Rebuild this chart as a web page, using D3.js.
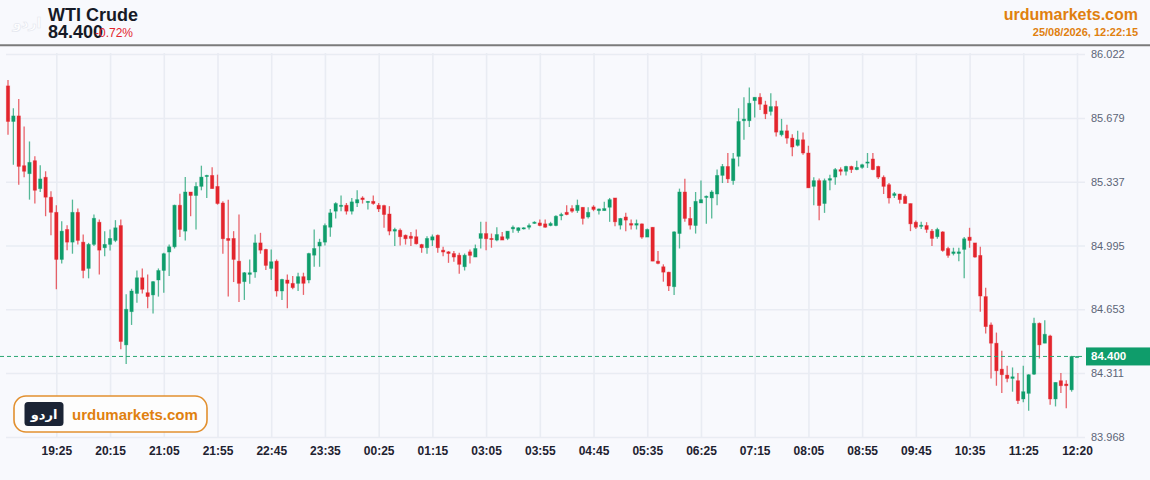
<!DOCTYPE html>
<html>
<head>
<meta charset="utf-8">
<script src="https://cdn.jsdelivr.net/npm/d3@7"></script>
<style>
  body { margin: 0; background: #f8f9fd; }
  svg { display: block; font-family: "Liberation Sans", Arial, sans-serif; }
</style>
</head>
<body>
<div id="chart"></div>
<script>
// Chart data (5 minute candles, WTI Crude)
// ================================
var open = [
  85.851, 85.660, 85.690, 85.423, 85.380, 85.450, 85.300, 85.361, 85.254, 85.173,
  84.920, 85.081, 85.013, 85.173, 85.013, 84.872, 85.001, 85.120, 84.983, 85.001,
  85.022, 85.102, 84.462, 84.640, 84.738, 84.822, 84.742, 84.730, 84.810, 84.861,
  84.960, 84.988, 85.211, 85.072, 85.282, 85.263, 85.312, 85.366, 85.371, 85.312,
  85.223, 85.033, 85.033, 84.911, 84.801, 84.840, 84.853, 85.009, 84.974, 84.872,
  84.911, 84.751, 84.810, 84.792, 84.792, 84.828, 84.810, 84.943, 84.992, 85.013,
  85.093, 85.179, 85.206, 85.211, 85.179, 85.223, 85.250, 85.227, 85.232, 85.211,
  85.209, 85.164, 85.072, 85.077, 85.050, 85.045, 85.042, 85.000, 84.983, 85.024,
  85.050, 84.970, 84.961, 84.952, 84.943, 84.881, 84.961, 84.933, 85.033, 85.059,
  85.033, 85.024, 85.042, 85.033, 85.084, 85.075, 85.086, 85.093, 85.116, 85.116,
  85.111, 85.102, 85.102, 85.157, 85.173, 85.193, 85.182, 85.200, 85.148, 85.202,
  85.182, 85.182, 85.200, 85.250, 85.104, 85.148, 85.113, 85.104, 85.111, 85.040,
  85.093, 84.911, 84.881, 84.852, 84.774, 85.059, 85.282, 85.140, 85.102, 85.223,
  85.254, 85.250, 85.271, 85.371, 85.419, 85.343, 85.473, 85.664, 85.664, 85.772,
  85.790, 85.749, 85.714, 85.740, 85.589, 85.610, 85.571, 85.532, 85.562, 85.491,
  85.312, 85.343, 85.220, 85.345, 85.362, 85.402, 85.393, 85.419, 85.402, 85.414,
  85.437, 85.459, 85.419, 85.361, 85.321, 85.263, 85.271, 85.259, 85.220, 85.120,
  85.099, 85.102, 85.072, 85.042, 85.068, 84.979, 84.952, 84.952, 84.974, 85.040,
  85.009, 84.942, 84.721, 84.569, 84.471, 84.332, 84.300, 84.282, 84.270, 84.172,
  84.202, 84.305, 84.578, 84.471, 84.510, 84.172, 84.270, 84.252, 84.221, 84.400
];
var high = [
  85.883, 85.731, 85.781, 85.633, 85.553, 85.473, 85.425, 85.393, 85.286, 85.211,
  85.125, 85.104, 85.241, 85.193, 85.054, 85.009, 85.161, 85.134, 85.072, 85.081,
  85.131, 85.134, 84.733, 84.763, 84.861, 84.872, 84.840, 84.804, 84.872, 84.956,
  85.001, 85.214, 85.273, 85.362, 85.282, 85.334, 85.423, 85.375, 85.414, 85.375,
  85.232, 85.241, 85.072, 85.161, 84.853, 84.920, 85.054, 85.063, 84.977, 84.974,
  84.920, 84.817, 84.840, 84.831, 84.849, 84.849, 84.956, 85.081, 85.031, 85.113,
  85.191, 85.227, 85.263, 85.223, 85.250, 85.291, 85.259, 85.232, 85.263, 85.223,
  85.214, 85.206, 85.090, 85.086, 85.054, 85.068, 85.081, 85.004, 85.045, 85.054,
  85.054, 84.988, 84.965, 84.965, 84.956, 84.952, 84.974, 85.000, 85.122, 85.122,
  85.059, 85.093, 85.068, 85.072, 85.102, 85.093, 85.093, 85.113, 85.125, 85.134,
  85.134, 85.122, 85.157, 85.170, 85.211, 85.211, 85.241, 85.200, 85.200, 85.211,
  85.193, 85.229, 85.250, 85.250, 85.143, 85.170, 85.134, 85.134, 85.113, 85.086,
  85.093, 84.965, 84.894, 84.854, 85.072, 85.300, 85.353, 85.202, 85.282, 85.343,
  85.263, 85.291, 85.402, 85.432, 85.491, 85.491, 85.731, 85.790, 85.842, 85.790,
  85.812, 85.771, 85.812, 85.771, 85.674, 85.642, 85.592, 85.610, 85.601, 85.530,
  85.361, 85.354, 85.354, 85.375, 85.411, 85.414, 85.423, 85.423, 85.450, 85.434,
  85.491, 85.491, 85.423, 85.371, 85.330, 85.282, 85.273, 85.268, 85.220, 85.129,
  85.122, 85.120, 85.084, 85.090, 85.072, 84.988, 84.983, 84.983, 85.040, 85.090,
  85.009, 84.988, 84.769, 84.582, 84.528, 84.430, 84.350, 84.341, 84.311, 84.350,
  84.305, 84.608, 84.582, 84.594, 84.516, 84.261, 84.311, 84.273, 84.403, 84.403
];
var low = [
  85.589, 85.428, 85.321, 85.361, 85.241, 85.220, 85.282, 85.152, 85.050, 84.760,
  84.899, 84.970, 84.951, 85.001, 84.819, 84.819, 84.992, 84.840, 84.938, 84.968,
  85.013, 84.439, 84.359, 84.569, 84.688, 84.738, 84.658, 84.630, 84.721, 84.742,
  84.831, 84.979, 85.040, 85.022, 85.152, 85.081, 85.291, 85.250, 85.300, 85.214,
  84.951, 84.721, 84.799, 84.692, 84.703, 84.790, 84.822, 84.951, 84.863, 84.810,
  84.721, 84.703, 84.658, 84.760, 84.751, 84.730, 84.792, 84.881, 84.881, 84.995,
  85.042, 85.140, 85.179, 85.161, 85.161, 85.202, 85.220, 85.188, 85.214, 85.175,
  85.090, 85.050, 84.992, 84.995, 85.000, 84.992, 85.000, 84.956, 84.951, 84.992,
  84.956, 84.938, 84.902, 84.908, 84.844, 84.861, 84.899, 84.933, 84.979, 84.970,
  84.983, 85.018, 85.024, 85.024, 85.063, 85.063, 85.081, 85.081, 85.111, 85.098,
  85.090, 85.098, 85.098, 85.131, 85.157, 85.170, 85.170, 85.107, 85.140, 85.179,
  85.161, 85.182, 85.122, 85.098, 85.081, 85.072, 85.081, 85.081, 85.031, 85.040,
  84.911, 84.894, 84.801, 84.751, 84.730, 84.979, 85.122, 85.081, 85.059, 85.223,
  85.111, 85.140, 85.211, 85.330, 85.330, 85.321, 85.419, 85.562, 85.630, 85.681,
  85.722, 85.673, 85.692, 85.580, 85.580, 85.541, 85.473, 85.526, 85.482, 85.304,
  85.211, 85.131, 85.170, 85.291, 85.321, 85.371, 85.371, 85.384, 85.398, 85.407,
  85.411, 85.398, 85.352, 85.271, 85.220, 85.250, 85.220, 85.220, 85.072, 85.084,
  85.084, 85.063, 84.992, 85.031, 84.961, 84.929, 84.942, 84.911, 84.819, 84.983,
  84.929, 84.640, 84.523, 84.282, 84.243, 84.204, 84.261, 84.211, 84.145, 84.154,
  84.109, 84.300, 84.389, 84.471, 84.141, 84.132, 84.204, 84.122, 84.211, 84.397
];
var close = [
  85.660, 85.690, 85.419, 85.393, 85.441, 85.291, 85.352, 85.254, 85.173, 84.920,
  85.072, 85.013, 85.173, 85.022, 84.861, 85.001, 85.141, 84.970, 85.001, 85.033,
  85.090, 84.480, 84.653, 84.751, 84.822, 84.760, 84.721, 84.801, 84.861, 84.951,
  84.988, 85.211, 85.081, 85.282, 85.263, 85.312, 85.362, 85.371, 85.300, 85.220,
  85.031, 85.022, 84.920, 84.792, 84.849, 84.849, 85.009, 84.970, 84.888, 84.908,
  84.751, 84.813, 84.792, 84.769, 84.828, 84.792, 84.952, 84.979, 85.013, 85.102,
  85.170, 85.220, 85.211, 85.179, 85.229, 85.241, 85.241, 85.232, 85.220, 85.191,
  85.161, 85.072, 85.081, 85.042, 85.031, 85.033, 85.004, 84.983, 85.033, 85.042,
  84.983, 84.960, 84.952, 84.933, 84.894, 84.943, 84.942, 84.979, 85.059, 85.031,
  85.027, 85.054, 85.024, 85.072, 85.093, 85.090, 85.090, 85.102, 85.120, 85.102,
  85.093, 85.113, 85.152, 85.161, 85.161, 85.179, 85.211, 85.140, 85.173, 85.188,
  85.191, 85.193, 85.241, 85.122, 85.140, 85.131, 85.104, 85.113, 85.040, 85.081,
  84.911, 84.899, 84.852, 84.778, 85.068, 85.282, 85.140, 85.104, 85.232, 85.241,
  85.259, 85.282, 85.371, 85.419, 85.352, 85.460, 85.660, 85.673, 85.758, 85.790,
  85.753, 85.701, 85.740, 85.603, 85.610, 85.571, 85.523, 85.562, 85.491, 85.304,
  85.343, 85.209, 85.343, 85.354, 85.402, 85.393, 85.419, 85.402, 85.414, 85.428,
  85.443, 85.402, 85.362, 85.312, 85.250, 85.273, 85.241, 85.220, 85.111, 85.093,
  85.104, 85.081, 85.033, 85.081, 84.968, 84.942, 84.961, 84.961, 85.031, 85.022,
  84.933, 84.724, 84.560, 84.471, 84.323, 84.302, 84.282, 84.291, 84.163, 84.211,
  84.302, 84.578, 84.462, 84.519, 84.172, 84.261, 84.243, 84.243, 84.400, 84.400
];

// tick labels
var priceTicks = [86.022, 85.679, 85.337, 84.995, 84.653, 84.311, 83.968];
var tickBars = [9, 19, 29, 39, 49, 59, 69, 79, 89, 99, 109, 119, 129, 139, 149, 159, 169, 179, 189, 199];
var timeLabels = [
  "19:25", "20:15", "21:05", "21:55", "22:45", "23:35", "00:25", "01:15", "03:05", "03:55",
  "04:45", "05:35", "06:25", "07:15", "08:05", "08:55", "09:45", "10:35", "11:25", "12:20"
];
var lastPrice = 84.4;
var changeText = "-0.72%";
var stampText = "25/08/2026, 12:22:15";

// Set up our chart
// ================================
var svgWidth = 1150;
var svgHeight = 480;

var plot = { left: 6, right: 1085, top: 54, bottom: 437 };

var upColor = "#0f9d6b";
var downColor = "#e3252d";
var orange = "#e0800f";

var svg = d3
  .select("#chart")
  .append("svg")
  .attr("width", svgWidth)
  .attr("height", svgHeight);

svg.append("rect").attr("width", svgWidth).attr("height", svgHeight).attr("fill", "#f8f9fd");

var bars = d3.range(close.length).map((i) => ({
  i: i,
  o: open[i],
  h: high[i],
  l: low[i],
  c: close[i],
}));

var x = d3.scaleLinear().domain([0, close.length - 1]).range([8, 1077]);
var y = d3
  .scaleLinear()
  .domain([d3.min(priceTicks), d3.max(priceTicks)])
  .range([plot.bottom, plot.top]);

// grid lines
// ================================
var yGrid = svg
  .append("g")
  .attr("transform", `translate(${plot.left}, 0)`)
  .call(d3.axisRight(y).tickValues(priceTicks).tickSize(plot.right - plot.left).tickFormat(""));

var xGrid = svg
  .append("g")
  .attr("transform", `translate(0, ${plot.top - 1})`)
  .call(d3.axisBottom(x).tickValues(tickBars).tickSize(plot.bottom - plot.top + 1).tickFormat(""));

svg.selectAll(".domain").remove();
yGrid.selectAll("line").attr("stroke", "#e9ecf3").attr("stroke-width", 1.6);
xGrid.selectAll("line").attr("stroke", "#e9ecf3").attr("stroke-width", 1.6);

// axis labels
// ================================
var yAxis = svg
  .append("g")
  .attr("transform", `translate(${plot.right + 6}, 0)`)
  .call(d3.axisRight(y).tickValues(priceTicks).tickSize(0).tickPadding(0).tickFormat(d3.format(".3f")));

yAxis.select(".domain").remove();
yAxis.selectAll("text").attr("fill", "#5c6577").style("font-size", "11px");

var xAxis = svg
  .append("g")
  .attr("transform", `translate(0, ${plot.bottom})`)
  .call(
    d3
      .axisBottom(x)
      .tickValues(tickBars)
      .tickSize(0)
      .tickPadding(9.5)
      .tickFormat((d, k) => timeLabels[k])
  );

xAxis.select(".domain").remove();
xAxis
  .selectAll("text")
  .attr("fill", "#1e2230")
  .style("font-size", "12px")
  .style("font-weight", "bold");

// candles
// ================================
var candles = svg.append("g").selectAll("g").data(bars).enter().append("g");

candles
  .append("line")
  .attr("x1", (d) => x(d.i))
  .attr("x2", (d) => x(d.i))
  .attr("y1", (d) => y(d.h))
  .attr("y2", (d) => y(d.l))
  .attr("stroke", (d) => (d.c >= d.o ? upColor : downColor))
  .attr("stroke-opacity", 0.7)
  .attr("stroke-width", 1.3);

candles
  .append("rect")
  .attr("x", (d) => x(d.i) - 1.7)
  .attr("width", 3.4)
  .attr("y", (d) => y(Math.max(d.o, d.c)))
  .attr("height", (d) => Math.max(1.2, Math.abs(y(d.o) - y(d.c))))
  .attr("fill", (d) => (d.c >= d.o ? upColor : downColor))
  .attr("stroke", (d) => (d.c >= d.o ? upColor : downColor))
  .attr("stroke-opacity", 0.4)
  .attr("stroke-width", 0.8);

// last price line and label
// ================================
svg
  .append("line")
  .attr("x1", 0)
  .attr("x2", plot.right)
  .attr("y1", y(lastPrice))
  .attr("y2", y(lastPrice))
  .attr("stroke", "#2aa672")
  .attr("stroke-width", 1)
  .attr("stroke-dasharray", "4,3");

svg
  .append("rect")
  .attr("x", plot.right + 1)
  .attr("y", y(lastPrice) - 9)
  .attr("width", svgWidth - plot.right - 1)
  .attr("height", 18)
  .attr("fill", upColor);

svg
  .append("text")
  .attr("x", plot.right + 6)
  .attr("y", y(lastPrice) + 4)
  .attr("fill", "#ffffff")
  .style("font-size", "11.5px")
  .style("font-weight", "bold")
  .text(d3.format(".3f")(lastPrice));

// header
// ================================
svg
  .append("line")
  .attr("x1", 0)
  .attr("x2", svgWidth)
  .attr("y1", 45.3)
  .attr("y2", 45.3)
  .attr("stroke", "#7b7b7b")
  .attr("stroke-width", 2);

// faint logo mark
svg
  .append("text")
  .attr("x", 27)
  .attr("y", 28)
  .attr("text-anchor", "middle")
  .attr("fill", "#ffffff")
  .attr("stroke", "#e3e6ee")
  .attr("stroke-width", 0.6)
  .style("font-family", "'DejaVu Sans', sans-serif")
  .style("font-size", "14px")
  .style("font-weight", "bold")
  .text("اردو");

svg
  .append("text")
  .attr("x", 48)
  .attr("y", 21)
  .attr("fill", "#161a26")
  .style("font-size", "18px")
  .style("font-weight", "bold")
  .text("WTI Crude");

svg
  .append("text")
  .attr("x", 48)
  .attr("y", 38)
  .attr("fill", "#161a26")
  .style("font-size", "18px")
  .style("font-weight", "bold")
  .text(d3.format(".3f")(lastPrice));

svg
  .append("text")
  .attr("x", 95)
  .attr("y", 37)
  .attr("fill", downColor)
  .style("font-size", "12px")
  .text(changeText);

svg
  .append("text")
  .attr("x", 1138)
  .attr("y", 20)
  .attr("text-anchor", "end")
  .attr("fill", orange)
  .style("font-size", "16px")
  .style("font-weight", "bold")
  .text("urdumarkets.com");

svg
  .append("text")
  .attr("x", 1138)
  .attr("y", 35.5)
  .attr("text-anchor", "end")
  .attr("fill", orange)
  .style("font-size", "11px")
  .style("font-weight", "bold")
  .text(stampText);

// watermark badge bottom left
// ================================
var badge = svg.append("g");

badge
  .append("rect")
  .attr("x", 14)
  .attr("y", 396)
  .attr("width", 193)
  .attr("height", 36)
  .attr("rx", 12)
  .attr("fill", "#fdfdfd")
  .attr("stroke", "#e2902f")
  .attr("stroke-width", 1.6);

badge
  .append("rect")
  .attr("x", 24.5)
  .attr("y", 402)
  .attr("width", 39)
  .attr("height", 24)
  .attr("rx", 3.5)
  .attr("fill", "#1b2435");

badge
  .append("text")
  .attr("x", 44)
  .attr("y", 419)
  .attr("text-anchor", "middle")
  .attr("fill", "#ffffff")
  .style("font-family", "'DejaVu Sans', sans-serif")
  .style("font-size", "13px")
  .style("font-weight", "bold")
  .text("اردو");

badge
  .append("text")
  .attr("x", 72)
  .attr("y", 420)
  .attr("fill", orange)
  .style("font-size", "15px")
  .style("font-weight", "bold")
  .text("urdumarkets.com");
</script>
</body>
</html>
